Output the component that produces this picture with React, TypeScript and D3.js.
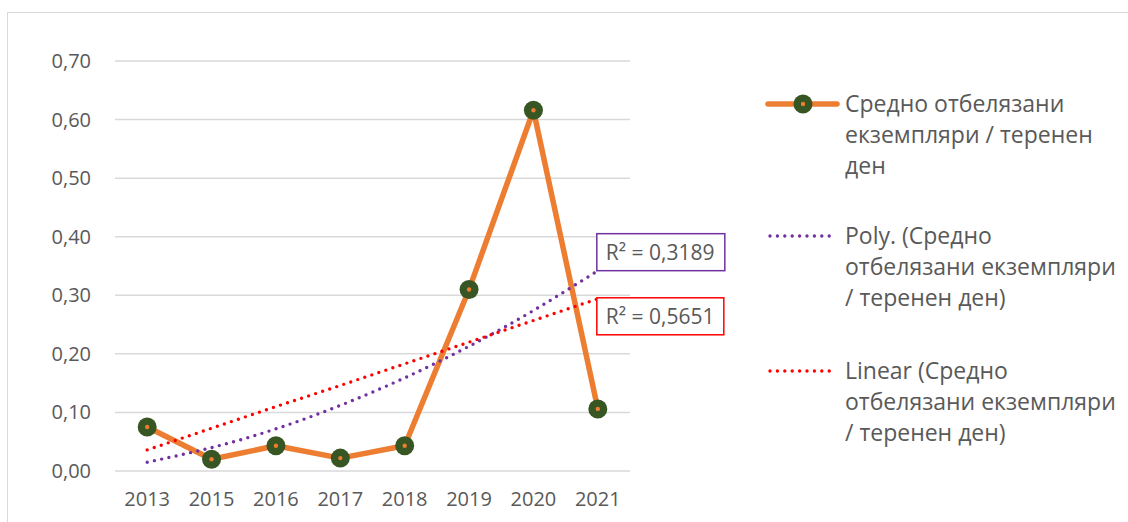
import * as React from "react";
import * as d3 from "d3";

const years = ["2013", "2015", "2016", "2017", "2018", "2019", "2020", "2021"];
const avgValues = [0.075, 0.02, 0.043, 0.022, 0.043, 0.31, 0.616, 0.106];
// trendlines
const polyTrend = [0.015, 0.04, 0.072, 0.112, 0.159, 0.213, 0.274, 0.342];
const linearTrend = [0.036, 0.073, 0.11, 0.146, 0.183, 0.22, 0.257, 0.294];
const yTicks = [0, 0.1, 0.2, 0.3, 0.4, 0.5, 0.6, 0.7];
const polyR2 = "R² = 0,3189";
const linearR2 = "R² = 0,5651";
const legendSeries = ["Средно отбелязани", "екземпляри / теренен", "ден"];
const legendPoly = ["Poly. (Средно", "отбелязани екземпляри", "/ теренен ден)"];
const legendLinear = ["Linear (Средно", "отбелязани екземпляри", "/ теренен ден)"];

const W = 1128;
const H = 522;
const font = "'Open Sans', 'Noto Sans', sans-serif";
const textColor = "#595959";
const orange = "#ED7D31";
const green = "#375623";
const purple = "#7030A0";
const red = "#FF0000";
const dotted = { strokeDasharray: "0 7.4", strokeLinecap: "round" as const, strokeWidth: 3.4, fill: "none" };

export default function App() {
  const x = d3.scaleBand<string>().domain(years).range([115, 630]);
  const cx = (d: string) => (x(d) || 0) + x.bandwidth() / 2;
  const y = d3.scaleLinear().domain([0, 0.7]).range([471, 61]);
  const fmt = (v: number) => d3.format(".2f")(v).replace(".", ",");

  const line = d3.line<number>().x((_, i) => cx(years[i])).y((d) => y(d));
  const curve = d3.line<number>().x((_, i) => cx(years[i])).y((d) => y(d)).curve(d3.curveNatural);

  const lastX = cx(years[years.length - 1]);

  const legendText = (lines: string[], top: number) =>
    lines.map((t, i) => (
      <text key={i} x={845} y={top + i * 31 + 8} fontSize={23} fill={textColor} fontFamily={font}>
        {t}
      </text>
    ));

  return (
    <svg width={W} height={H} style={{ position: "absolute", left: 0, top: 0 }}>
      <rect x={0} y={0} width={W} height={H} fill="#fff" />
      <rect x={7.5} y={12.5} width={W + 10} height={H + 10} fill="none" stroke="#d9d9d9" strokeWidth={1} />

      {/* gridlines + y labels */}
      {yTicks.map((t) => (
        <g key={t}>
          <line x1={115} x2={630} y1={y(t)} y2={y(t)} stroke="#d9d9d9" strokeWidth={1.5} />
          <text x={91} y={y(t) + 7} textAnchor="end" fontSize={20} fill={textColor} fontFamily={font}>
            {fmt(t)}
          </text>
        </g>
      ))}

      {/* x labels */}
      {years.map((yr) => (
        <text key={yr} x={cx(yr)} y={506} textAnchor="middle" fontSize={20} fill={textColor} fontFamily={font}>
          {yr}
        </text>
      ))}

      {/* series */}
      <path d={line(avgValues) || ""} stroke={orange} strokeWidth={5.5} fill="none" strokeLinejoin="round" />
      {avgValues.map((v, i) => (
        <g key={i}>
          <circle cx={cx(years[i])} cy={y(v)} r={9.5} fill={green} />
          <circle cx={cx(years[i])} cy={y(v)} r={2.2} fill={orange} />
        </g>
      ))}

      {/* trendlines */}
      <path d={curve(polyTrend) || ""} stroke={purple} {...dotted} />
      <path d={line(linearTrend) || ""} stroke={red} {...dotted} />

      {/* R² labels */}
      <rect x={lastX - 1} y={y(polyTrend[7]) - 37} width={128} height={37} fill="#fff" stroke={purple} strokeWidth={1.5} />
      <text x={lastX + 8} y={y(polyTrend[7]) - 11} fontSize={21} fill={textColor} fontFamily={font}>
        {polyR2}
      </text>
      <rect x={lastX - 1} y={y(linearTrend[7]) - 1} width={127} height={37} fill="#fff" stroke={red} strokeWidth={1.5} />
      <text x={lastX + 8} y={y(linearTrend[7]) + 25} fontSize={21} fill={textColor} fontFamily={font}>
        {linearR2}
      </text>

      {/* legend */}
      <line x1={768} x2={837} y1={104} y2={104} stroke={orange} strokeWidth={5.5} strokeLinecap="round" />
      <circle cx={803} cy={104} r={9.5} fill={green} />
      <circle cx={803} cy={104} r={2.2} fill={orange} />
      {legendText(legendSeries, 104)}

      <line x1={770} x2={835} y1={236} y2={236} stroke={purple} {...dotted} />
      {legendText(legendPoly, 236)}

      <line x1={770} x2={835} y1={371} y2={371} stroke={red} {...dotted} />
      {legendText(legendLinear, 371)}
    </svg>
  );
}
